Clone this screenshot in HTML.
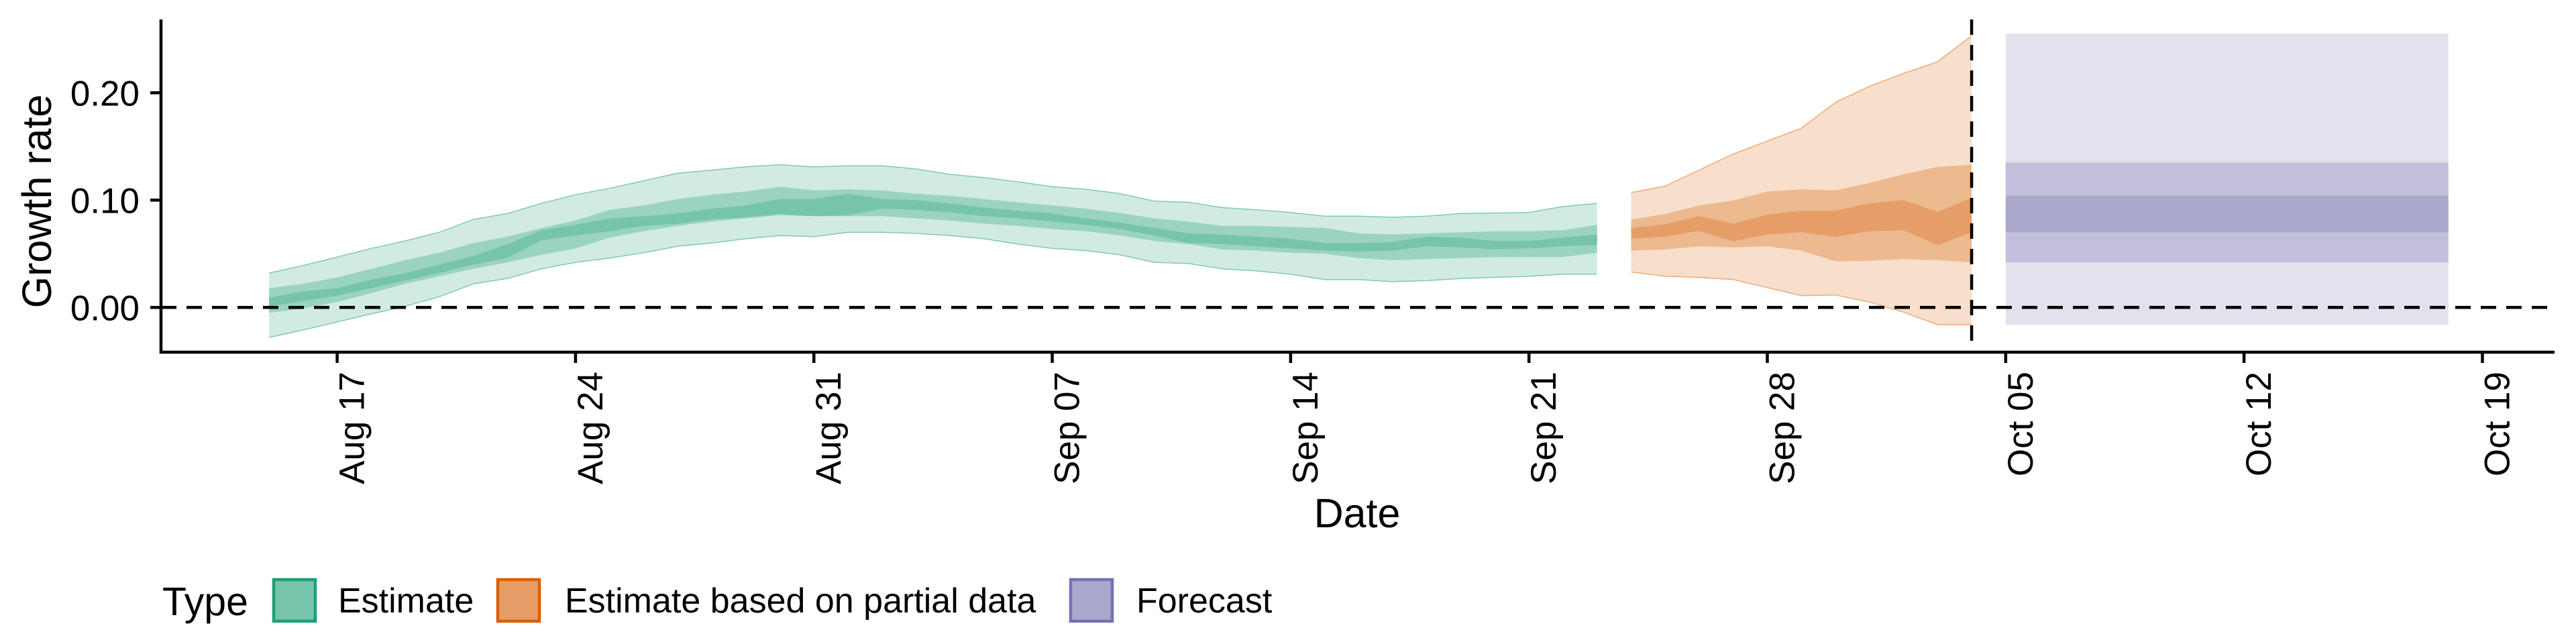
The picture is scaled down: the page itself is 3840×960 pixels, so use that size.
<!DOCTYPE html>
<html><head><meta charset="utf-8"><style>
html,body{margin:0;padding:0;background:#fff;}
svg{display:block;font-family:"Liberation Sans",sans-serif;}
</style></head><body>
<svg id="chart" width="3840" height="960" viewBox="0 0 3840 960" xmlns="http://www.w3.org/2000/svg">
<g id="bands"></g>
<g id="axes"></g>
<g id="legend"></g>
</svg>
<script>
// day offsets relative to Aug 17
const estDays = [-2,-1,0,1,2,3,4,5,6,7,8,9,10,11,12,13,14,15,16,17,18,19,20,21,22,23,24,25,26,27,28,29,30,31,32,33,34,35,36,37];
const estOuterHi = [0.032,0.039,0.047,0.055,0.062,0.070,0.082,0.0875,0.097,0.105,0.111,0.118,0.125,0.128,0.131,0.133,0.131,0.132,0.132,0.129,0.124,0.121,0.117,0.1125,0.110,0.106,0.099,0.098,0.093,0.091,0.0885,0.085,0.085,0.084,0.085,0.0875,0.088,0.0885,0.094,0.097];
const estOuterLo = [-0.028,-0.021,-0.0135,-0.006,0.001,0.010,0.022,0.027,0.036,0.042,0.046,0.051,0.057,0.060,0.064,0.067,0.066,0.070,0.070,0.069,0.067,0.064,0.059,0.055,0.053,0.049,0.042,0.041,0.036,0.034,0.031,0.026,0.026,0.024,0.025,0.027,0.028,0.029,0.031,0.031];
const estMidHi = [0.018,0.022,0.028,0.036,0.044,0.051,0.060,0.066,0.074,0.081,0.091,0.095,0.101,0.105,0.108,0.1125,0.109,0.110,0.109,0.106,0.104,0.101,0.098,0.095,0.092,0.088,0.083,0.080,0.076,0.076,0.075,0.074,0.069,0.068,0.069,0.070,0.071,0.071,0.072,0.077];
const estMidLo = [-0.005,-0.001,0.005,0.0135,0.022,0.029,0.036,0.042,0.049,0.055,0.065,0.071,0.076,0.080,0.083,0.086,0.085,0.085,0.085,0.083,0.081,0.078,0.076,0.073,0.071,0.067,0.062,0.059,0.054,0.053,0.051,0.050,0.046,0.044,0.045,0.046,0.047,0.047,0.047,0.051];
const estInHi = [0.009,0.015,0.018,0.026,0.032,0.040,0.048,0.059,0.072,0.077,0.083,0.085,0.0875,0.092,0.095,0.101,0.101,0.106,0.101,0.100,0.097,0.093,0.090,0.0875,0.083,0.079,0.074,0.069,0.068,0.066,0.064,0.060,0.060,0.061,0.066,0.065,0.062,0.062,0.065,0.068];
const estInLo = [0.001,0.006,0.011,0.018,0.025,0.032,0.040,0.046,0.0625,0.067,0.071,0.076,0.078,0.082,0.084,0.087,0.085,0.086,0.092,0.091,0.0885,0.085,0.083,0.080,0.077,0.073,0.067,0.060,0.059,0.057,0.055,0.053,0.052,0.053,0.057,0.056,0.054,0.055,0.057,0.058];

const partDays = [38,39,40,41,42,43,44,45,46,47,48];
const partOuterHi = [0.107,0.113,0.128,0.143,0.155,0.167,0.191,0.206,0.218,0.229,0.253];
const partOuterLo = [0.033,0.029,0.028,0.026,0.0185,0.011,0.0116,0.005,-0.0044,-0.016,-0.016];
const partMidHi = [0.082,0.087,0.095,0.0996,0.108,0.110,0.109,0.116,0.124,0.131,0.133];
const partMidLo = [0.053,0.054,0.057,0.056,0.057,0.053,0.043,0.0435,0.045,0.044,0.042];
const partInHi = [0.074,0.0775,0.085,0.078,0.0865,0.090,0.090,0.097,0.100,0.089,0.102];
const partInLo = [0.064,0.066,0.0714,0.0616,0.068,0.070,0.066,0.071,0.072,0.058,0.070];

const fcDays = [49,62];
const fcOuter = [-0.016,0.255];
const fcMid = [0.042,0.135];
const fcInner = [0.070,0.104];

const cutoffDay = 48;
const yTicks = [0,0.1,0.2];
const yTickLabels = ["0.00","0.10","0.20"];
const xTickDays = [0,7,14,21,28,35,42,49,56,63];
const xTickLabels = ["Aug 17","Aug 24","Aug 31","Sep 07","Sep 14","Sep 21","Sep 28","Oct 05","Oct 12","Oct 19"];

const NS="http://www.w3.org/2000/svg";
const X0=502.6, PXD=50.76, Y0=458.3, PXV=1600;
const xs=d=>X0+d*PXD;
const ys=v=>Y0-v*PXV;
const AX_L=240, AX_R=3808, AX_B=525, AX_T=29;

function mk(tag,attrs,parent){const e=document.createElementNS(NS,tag);for(const k in attrs)e.setAttribute(k,attrs[k]);parent.appendChild(e);return e;}
function bandPath(days,hi,lo){
  let d="";
  days.forEach((t,i)=>{d+=(i?"L":"M")+xs(t).toFixed(1)+","+ys(hi[i]).toFixed(1);});
  for(let i=days.length-1;i>=0;i--)d+="L"+xs(days[i]).toFixed(1)+","+ys(lo[i]).toFixed(1);
  return d+"Z";
}
function linePath(days,v){let d="";days.forEach((t,i)=>{d+=(i?"L":"M")+xs(t).toFixed(1)+","+ys(v[i]).toFixed(1);});return d;}

const bands=document.getElementById('bands');
function drawSeries(name,days,oh,ol,mh,ml,ih,il,c1,c2,c3,edge){
  let p=mk('path',{d:bandPath(days,oh,ol),fill:c1},bands);
  
  
  p=mk('path',{d:bandPath(days,mh,ml),fill:c2},bands);
  
  
  p=mk('path',{d:bandPath(days,ih,il),fill:c3},bands);
  
  
  p=mk('path',{d:linePath(days,oh),fill:'none',stroke:edge,'stroke-width':1.5},bands);
  
  
  p=mk('path',{d:linePath(days,ol),fill:'none',stroke:edge,'stroke-width':1.5},bands);
  
  
}
drawSeries('estimate',estDays,estOuterHi,estOuterLo,estMidHi,estMidLo,estInHi,estInLo,'#d2ebe2','#9bd3c2','#76c4ab','#7fcab2');
drawSeries('partial',partDays,partOuterHi,partOuterLo,partMidHi,partMidLo,partInHi,partInLo,'#f7dfcb','#edb98f','#e59e67','#eeaa78');
[[fcOuter,'#e2e2ee','outer'],[fcMid,'#c2bfdc','mid'],[fcInner,'#aaa8cd','inner']].forEach(([v,c,n])=>{
  const r=mk('rect',{x:xs(fcDays[0]),y:ys(v[1]),width:xs(fcDays[1])-xs(fcDays[0]),height:ys(v[0])-ys(v[1]),fill:c},bands);
  
  
});

const axes=document.getElementById('axes');
let l=mk('line',{x1:AX_L,x2:AX_R,y1:ys(0),y2:ys(0),stroke:'#000','stroke-width':4.5,'stroke-dasharray':'23 15'},axes);


l=mk('line',{x1:xs(cutoffDay),x2:xs(cutoffDay),y1:AX_T,y2:AX_B,stroke:'#000','stroke-width':4.5,'stroke-dasharray':'23 15'},axes);


l=mk('line',{x1:AX_L,x2:AX_L,y1:AX_T,y2:AX_B+2,stroke:'#000','stroke-width':4.5},axes);


l=mk('line',{x1:AX_L-2,x2:AX_R,y1:AX_B,y2:AX_B,stroke:'#000','stroke-width':4.5},axes);


yTicks.forEach((v,i)=>{
  const t=mk('line',{x1:AX_L-16,x2:AX_L,y1:ys(v),y2:ys(v),stroke:'#000','stroke-width':4.5},axes);
  
  
  const tx=mk('text',{x:208,y:ys(v)+19,'text-anchor':'end','font-size':53,fill:'#000'},axes);
  tx.textContent=yTickLabels[i];
  
  
});
xTickDays.forEach((d,i)=>{
  const t=mk('line',{x1:xs(d),x2:xs(d),y1:AX_B,y2:AX_B+16,stroke:'#000','stroke-width':4.5},axes);
  
  
  const tx=mk('text',{transform:'translate('+(xs(d)+40)+',554) rotate(-90)','text-anchor':'end','font-size':53,fill:'#000'},axes);
  tx.textContent=xTickLabels[i];
  
  
});
let tt=mk('text',{x:2023,y:786,'text-anchor':'middle','font-size':61,fill:'#000'},axes);
tt.textContent='Date';


tt=mk('text',{transform:'translate(76,300) rotate(-90)','text-anchor':'middle','font-size':61,fill:'#000'},axes);
tt.textContent='Growth rate';



const legend=document.getElementById('legend');
tt=mk('text',{x:242,y:917,'font-size':59,fill:'#000'},legend);
tt.textContent='Type';


[[406,'#76c4ab','#1b9e77','Estimate',504],[740,'#e59e67','#d95f02','Estimate based on partial data',842],[1594,'#aaa8cd','#7570b3','Forecast',1694]].forEach(([kx,f,s,lab,txx])=>{
  const r=mk('rect',{x:kx+2,y:864,width:62,height:62,fill:f,stroke:s,'stroke-width':4.5},legend);
  
  
  const t=mk('text',{x:txx,y:913,'font-size':52,fill:'#000'},legend);
  t.textContent=lab;
  
  
});
</script>
</body></html>
